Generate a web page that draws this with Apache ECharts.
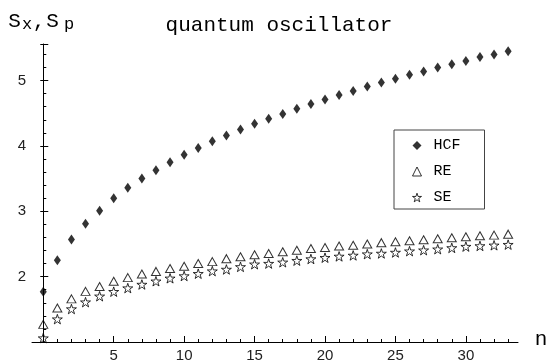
<!DOCTYPE html>
<html>
<head>
<meta charset="utf-8">
<script src="https://cdn.jsdelivr.net/npm/echarts@6/dist/echarts.min.js"></script>
<style>html,body{margin:0;padding:0;background:#fff}#c{width:549px;height:363px}</style>
</head>
<body>
<div id="c"></div>
<script>
var nValues = [0,1,2,3,4,5,6,7,8,9,10,11,12,13,14,15,16,17,18,19,20,21,22,23,24,25,26,27,28,29,30,31,32,33];
var HCF = [1.77,2.25,2.57,2.81,3.01,3.20,3.36,3.50,3.63,3.75,3.865,3.97,4.07,4.16,4.25,4.34,4.415,4.49,4.57,4.64,4.71,4.78,4.84,4.91,4.97,5.03,5.09,5.14,5.20,5.25,5.30,5.36,5.40,5.45];
var RE = [1.27,1.52,1.66,1.775,1.85,1.93,1.985,2.04,2.08,2.125,2.16,2.20,2.23,2.275,2.305,2.335,2.355,2.38,2.405,2.43,2.445,2.47,2.48,2.50,2.52,2.535,2.55,2.565,2.58,2.595,2.61,2.625,2.635,2.65];
var SE = [1.06,1.35,1.505,1.61,1.70,1.77,1.825,1.88,1.93,1.975,2.01,2.045,2.085,2.11,2.15,2.19,2.20,2.22,2.245,2.27,2.29,2.31,2.325,2.345,2.355,2.37,2.39,2.405,2.42,2.44,2.46,2.47,2.48,2.49];
var xMajorTicks = [5,10,15,20,25,30];
var yTickLabels = [2,3,4,5];
var seriesNames = ['HCF','RE','SE'];

function pairs(ys){ return nValues.map(function(n,i){ return [n, ys[i]]; }); }
var starPath = 'path://M50,2 L61,36 L97,36 L68,57 L79,92 L50,71 L21,92 L32,57 L3,36 L39,36 Z';
var mono = '"Liberation Mono", "DejaVu Sans Mono", monospace';
var sans = '"Liberation Sans", Arial, sans-serif';

var chart = echarts.init(document.getElementById('c'), null, {renderer:'canvas'});
var intN = nValues.slice();
chart.setOption({
  animation:false,
  backgroundColor:'#fff',
  grid:{left:32, right:31, top:44, bottom:20},
  legend:{
    orient:'vertical', left:394, top:130,
    data:seriesNames,
    itemWidth:9, itemHeight:9, itemGap:11,
    padding:[8,24,4,18],
    borderColor:'#444', borderWidth:1,
    backgroundColor:'#fff',
    itemStyle:{borderWidth:1},
    textStyle:{fontFamily:mono, fontSize:15, color:'#000', padding:[0,0,0,7]}
  },
  xAxis:[{
    type:'value', min:-0.8, max:33.7,
    axisLine:{show:true, onZero:false, lineStyle:{color:'#000', width:1}},
    axisTick:{show:true, inside:true, length:6, customValues:xMajorTicks, lineStyle:{color:'#000'}},
    axisLabel:{show:true, customValues:xMajorTicks, margin:6, color:'#222', fontFamily:sans, fontSize:15},
    splitLine:{show:false}
  },{
    type:'value', min:-0.8, max:33.7, position:'bottom',
    axisLine:{show:false, onZero:false},
    axisTick:{show:true, inside:true, length:3, customValues:intN, lineStyle:{color:'#000'}},
    axisLabel:{show:false},
    splitLine:{show:false}
  }],
  yAxis:[{
    type:'value', min:1, max:5.56, interval:1,
    axisLine:{show:true, onZero:true, onZeroAxisIndex:0, lineStyle:{color:'#000', width:1}},
    axisTick:{show:true, inside:true, length:5, lineStyle:{color:'#000'}},
    minorTick:{show:true, splitNumber:5, length:3, lineStyle:{color:'#000'}},
    axisLabel:{margin:6, color:'#222', fontFamily:sans, fontSize:15,
      formatter:function(v){ return yTickLabels.indexOf(Math.round(v))>=0 && Math.abs(v-Math.round(v))<1e-6 ? String(Math.round(v)) : ''; }},
    splitLine:{show:false}
  },{
    type:'value', min:1, max:5.56, interval:1, position:'left',
    axisLine:{show:false, onZero:true, onZeroAxisIndex:0},
    axisTick:{show:true, inside:false, length:3, lineStyle:{color:'#000'}},
    axisLabel:{show:false},
    splitLine:{show:false}
  }],
  series:[{
    name:'HCF', type:'scatter', clip:false, data:pairs(HCF),
    symbol:'diamond', symbolSize:[7,10],
    itemStyle:{color:'#000'}
  },{
    name:'RE', type:'scatter', clip:false, data:pairs(RE),
    symbol:'triangle', symbolSize:[9,8],
    itemStyle:{color:'rgba(255,255,255,0)', borderColor:'#000', borderWidth:1}
  },{
    name:'SE', type:'scatter', clip:false, data:pairs(SE),
    symbol:starPath, symbolSize:[10,10], symbolKeepAspect:true,
    itemStyle:{color:'rgba(255,255,255,0)', borderColor:'#000', borderWidth:1}
  }],
  graphic:[
    {type:'text', x:279, y:25, style:{text:'quantum oscillator', font:'21px '+mono, fill:'#000', textAlign:'center', textVerticalAlign:'middle'}},
    {type:'text', x:14.5, y:21, style:{text:'S', font:'21px '+mono, fill:'#000', textAlign:'center', textVerticalAlign:'middle'}},
    {type:'text', x:27, y:24, style:{text:'x', font:'17px '+mono, fill:'#000', textAlign:'center', textVerticalAlign:'middle'}},
    {type:'text', x:39, y:21, style:{text:',', font:'21px '+mono, fill:'#000', textAlign:'center', textVerticalAlign:'middle'}},
    {type:'text', x:52.5, y:21, style:{text:'S', font:'21px '+mono, fill:'#000', textAlign:'center', textVerticalAlign:'middle'}},
    {type:'text', x:69, y:24, style:{text:'p', font:'17px '+mono, fill:'#000', textAlign:'center', textVerticalAlign:'middle'}},
    {type:'text', x:541, y:339, style:{text:'n', font:'21px '+mono, fill:'#000', textAlign:'center', textVerticalAlign:'middle'}}
  ]
});
</script>
</body>
</html>
